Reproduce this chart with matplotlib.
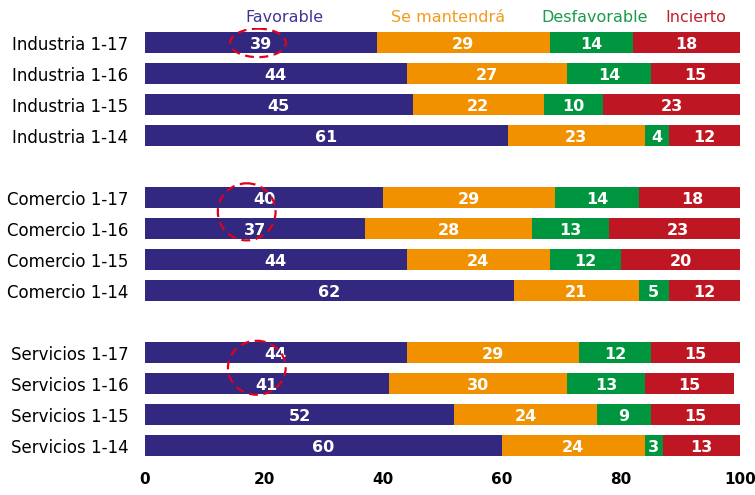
import matplotlib
matplotlib.use("Agg")
import matplotlib.pyplot as plt
from matplotlib.patches import Ellipse
import numpy as np

labels = ["Industria 1-17", "Industria 1-16", "Industria 1-15", "Industria 1-14",
          "Comercio 1-17", "Comercio 1-16", "Comercio 1-15", "Comercio 1-14",
          "Servicios 1-17", "Servicios 1-16", "Servicios 1-15", "Servicios 1-14"]
favorable = [39, 44, 45, 61, 40, 37, 44, 62, 44, 41, 52, 60]
mantendra = [29, 27, 22, 23, 29, 28, 24, 21, 29, 30, 24, 24]
desfavorable = [14, 14, 10, 4, 14, 13, 12, 5, 12, 13, 9, 3]
incierto = [18, 15, 23, 12, 18, 23, 20, 12, 15, 15, 15, 13]
series_names = ["Favorable", "Se mantendrá", "Desfavorable", "Incierto"]
xticks = [0, 20, 40, 60, 80, 100]

colors = ["#32287f", "#f29100", "#00963f", "#be1622"]
text_colors = ["#3f3594", "#f39b1e", "#1a9a4a", "#c0202f"]

# rows with a blank gap between the three groups
ypos = np.array([0, 1, 2, 3, 5, 6, 7, 8, 10, 11, 12, 13])

fig = plt.figure(figsize=(7.55, 4.95), dpi=100)
ax = fig.add_axes([0.192, 0.0667, 0.788, 0.8767])

left = np.zeros(len(labels))
for vals, c in zip([favorable, mantendra, desfavorable, incierto], colors):
    vals = np.array(vals)
    ax.barh(ypos, vals, left=left, height=0.68, color=c)
    for y, l, v in zip(ypos, left, vals):
        ax.text(l + v / 2, y + 0.05, str(v), ha="center", va="center",
                color="white", fontsize=11.5, fontweight="bold")
    left = left + vals

# legend as coloured headings above the bars
legend_x = [23.5, 50.9, 75.6, 92.6]
for name, x, c in zip(series_names, legend_x, text_colors):
    ax.text(x, -0.82, name, ha="center", va="center", color=c,
            fontsize=11.5, clip_on=False)

# dashed red highlight circles
for (cx, cy, w, h) in [(19.0, 0.0, 9.4, 0.92), (17.1, 5.45, 9.7, 1.84),
                       (18.8, 10.48, 9.7, 1.74)]:
    ax.add_patch(Ellipse((cx, cy), w, h, fill=False, edgecolor="#e2001a",
                         linewidth=1.6, linestyle=(0, (4, 2.5)), zorder=5))

ax.set_xlim(0, 100)
ax.set_ylim(13.52, -0.48)
ax.set_yticks(ypos)
ax.set_yticklabels(labels, fontsize=12)
ax.set_xticks(xticks)
ax.set_xticklabels([str(t) for t in xticks], fontsize=11, fontweight="bold")
ax.tick_params(length=0)
ax.tick_params(axis="x", pad=7)
ax.tick_params(axis="y", pad=12)
for s in ax.spines.values():
    s.set_visible(False)

fig.savefig("out.png", dpi=100)
